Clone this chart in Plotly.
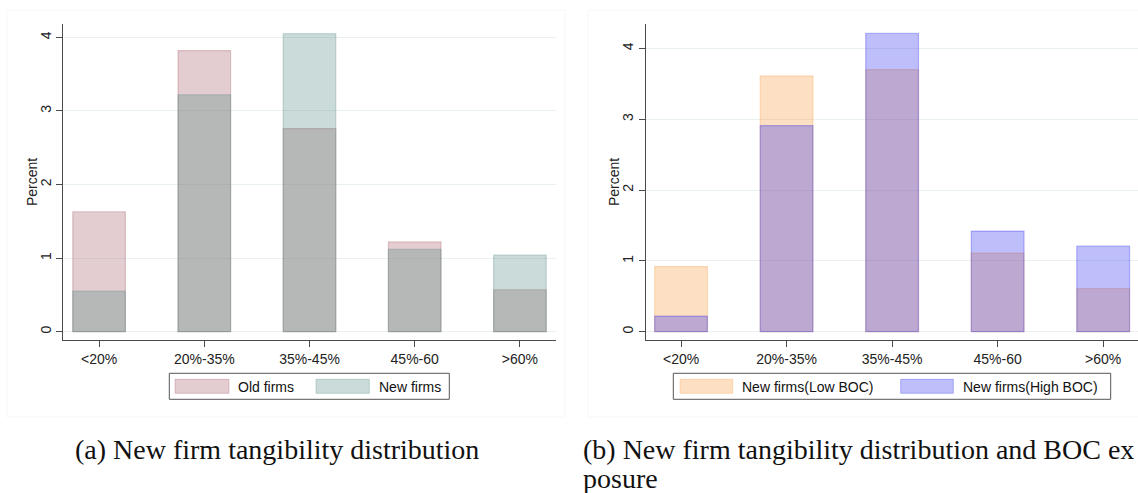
import plotly.graph_objects as go

# Tangibility buckets and bar heights (percent of firms)
categories = ["<20%", "20%-35%", "35%-45%", "45%-60", ">60%"]
old_firms = [1.63, 3.82, 2.76, 1.22, 0.57]
new_firms = [0.55, 3.22, 4.05, 1.12, 1.04]
low_boc = [0.92, 3.61, 3.70, 1.11, 0.61]
high_boc = [0.22, 2.91, 4.21, 1.42, 1.21]
y_ticks = [0, 1, 2, 3, 4]

W, H = 1138, 493
FONT = "Liberation Sans, Arial, sans-serif"
SERIF = "Liberation Serif, Times New Roman, serif"

C_OLD = "rgba(162,88,98,0.3)"
C_NEW = "rgba(78,135,128,0.3)"
C_LOW = "rgba(248,152,58,0.3)"
C_HIGH = "rgba(41,41,238,0.3)"
AXIS_COLOR = "#4a4a4a"
GRID_COLOR = "rgb(234,241,242)"


def px(x):
    return x / W


def py(y):
    return 1 - y / H


fig = go.Figure()


def add_bars(values, name, color, xa, ya):
    fig.add_trace(go.Bar(
        x=categories, y=values, name=name, width=0.5,
        marker=dict(color=color, line=dict(color=color, width=1.2)),
        xaxis=xa, yaxis=ya, showlegend=False,
    ))


add_bars(old_firms, "Old firms", C_OLD, "x", "y")
add_bars(new_firms, "New firms", C_NEW, "x", "y")
add_bars(low_boc, "New firms(Low BOC)", C_LOW, "x2", "y2")
add_bars(high_boc, "New firms(High BOC)", C_HIGH, "x2", "y2")

ydom = [py(340), py(24.3)]


def xaxis_style(domain, rng, anchor):
    return dict(
        domain=domain, range=rng, anchor=anchor, type="category",
        showline=True, linecolor=AXIS_COLOR, linewidth=1,
        ticks="outside", ticklen=6, tickcolor=AXIS_COLOR, tickwidth=1,
        showgrid=False, zeroline=False,
        tickfont=dict(family=FONT, size=14, color="#222"),
        fixedrange=True,
    )


def yaxis_style(rng, anchor):
    return dict(
        domain=ydom, range=rng, anchor=anchor,
        tickvals=y_ticks, tickangle=-90,
        showline=True, linecolor=AXIS_COLOR, linewidth=1,
        ticks="outside", ticklen=6, tickcolor=AXIS_COLOR, tickwidth=1,
        showgrid=True, gridcolor=GRID_COLOR, gridwidth=1, zeroline=False,
        tickfont=dict(family=FONT, size=14, color="#222"),
        fixedrange=True,
    )


annotations = []
shapes = []

# faint outer frames of the two graph regions
for x0, x1 in [(7, 565), (588, 1140)]:
    shapes.append(dict(type="rect", xref="paper", yref="paper",
                       x0=px(x0), x1=px(x1), y0=py(417), y1=py(10),
                       line=dict(color="#f7f7f7", width=1), layer="below"))

# y-axis titles
for xc in [32, 614]:
    annotations.append(dict(text="Percent", xref="paper", yref="paper",
                            x=px(xc), y=py(182), textangle=-90, showarrow=False,
                            font=dict(family=FONT, size=14, color="#222"),
                            xanchor="center", yanchor="middle"))


def legend(box, items):
    bx0, bx1 = box
    shapes.append(dict(type="rect", xref="paper", yref="paper",
                       x0=px(bx0), x1=px(bx1), y0=py(399.3), y1=py(373.3),
                       line=dict(color="#555", width=1), fillcolor="white",
                       layer="above"))
    for sx0, sx1, tx, label, color in items:
        shapes.append(dict(type="rect", xref="paper", yref="paper",
                           x0=px(sx0), x1=px(sx1), y0=py(393.3), y1=py(379.3),
                           line=dict(color=color, width=1), fillcolor=color,
                           layer="above"))
        annotations.append(dict(text=label, xref="paper", yref="paper",
                                x=px(tx), y=py(386.5), showarrow=False,
                                xanchor="left", yanchor="middle",
                                font=dict(family=FONT, size=14, color="#111")))


legend((169.3, 449.3), [
    (175, 229, 236, "Old firms", C_OLD),
    (316, 369.3, 377, "New firms", C_NEW),
])
legend((673.3, 1110.7), [
    (680, 732.7, 740, "New firms(Low BOC)", C_LOW),
    (900.7, 953.3, 961, "New firms(High BOC)", C_HIGH),
])

# sub-figure captions
cap_font = dict(family=SERIF, size=28, color="#111")
annotations.append(dict(text="(a) New firm tangibility distribution",
                        xref="paper", yref="paper", x=px(73), y=py(449),
                        xanchor="left", yanchor="middle", showarrow=False,
                        font=cap_font))
annotations.append(dict(text="(b) New firm tangibility distribution and BOC ex",
                        xref="paper", yref="paper", x=px(581), y=py(449),
                        xanchor="left", yanchor="middle", showarrow=False,
                        font=cap_font))
annotations.append(dict(text="posure",
                        xref="paper", yref="paper", x=px(581), y=py(478),
                        xanchor="left", yanchor="middle", showarrow=False,
                        font=cap_font))

fig.update_layout(
    width=W, height=H,
    margin=dict(l=0, r=0, t=0, b=0),
    paper_bgcolor="white", plot_bgcolor="white",
    barmode="overlay", bargap=0.5,
    showlegend=False,
    xaxis=xaxis_style([px(63.3), px(555.7)], [-0.34, 4.34], "y"),
    yaxis=yaxis_style([-0.113, 4.177], "x"),
    xaxis2=xaxis_style([px(645.7), 1.0], [-0.335, 4.33], "y2"),
    yaxis2=yaxis_style([-0.117, 4.339], "x2"),
    shapes=shapes,
    annotations=annotations,
)

fig.write_html("out.html")
